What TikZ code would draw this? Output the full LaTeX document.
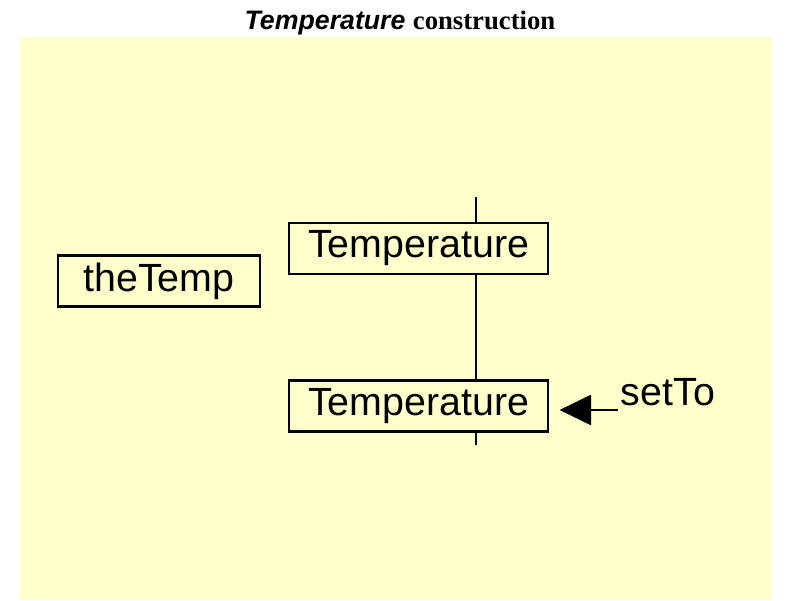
\documentclass[tikz,border=0pt]{standalone}
\usepackage{fontspec}
\setmainfont{Liberation Sans}
\newfontfamily\serifbold{Liberation Serif}
\usetikzlibrary{arrows.meta}
\definecolor{paper}{HTML}{FFFFCC}

\begin{document}
\begin{tikzpicture}[
    font=\fontsize{28}{30}\selectfont,
    box/.style={draw, line width=1.6pt, minimum width=6.475cm, minimum height=1.275cm, inner sep=0pt},
  ]
    \useasboundingbox (0, 0) rectangle (20, 15);
    \fill[paper] (0.5, 0) rectangle (19.3, 14.075);
    \node (title) at (10, 14.43) {\fontsize{19}{21}\selectfont\textbf{\textit{Temperature}} {\serifbold\bfseries construction}};

    \node[box] (tempA) at (10.4625, 8.7875) {Temperature};
    \node[box] (tempB) at (10.4625, 4.85) {Temperature};
    \node[box, minimum width=5.05cm] (theTemp) at (3.975, 7.975) {theTemp};
    \node (setTo) at (16.7, 5.2) {setTo};

    % object line
    \coordinate (lineTop) at (11.9, 10.075);
    \coordinate (lineBot) at (11.9, 3.875);
    \draw[line width=1.5pt] (lineTop) -- (lineTop |- tempA.north);
    \draw[line width=1.5pt] (lineTop |- tempA.south) -- (lineTop |- tempB.north);
    \draw[line width=1.5pt] (lineTop |- tempB.south) -- (lineBot);

    \coordinate (setFrom) at (15.45, 4.75);
    \draw[-{Triangle[length=7.9mm, width=7.5mm]}, line width=2.1pt, shorten >=2.6mm] (setFrom) -- (setFrom -| tempB.east);
  \end{tikzpicture}
\end{document}
